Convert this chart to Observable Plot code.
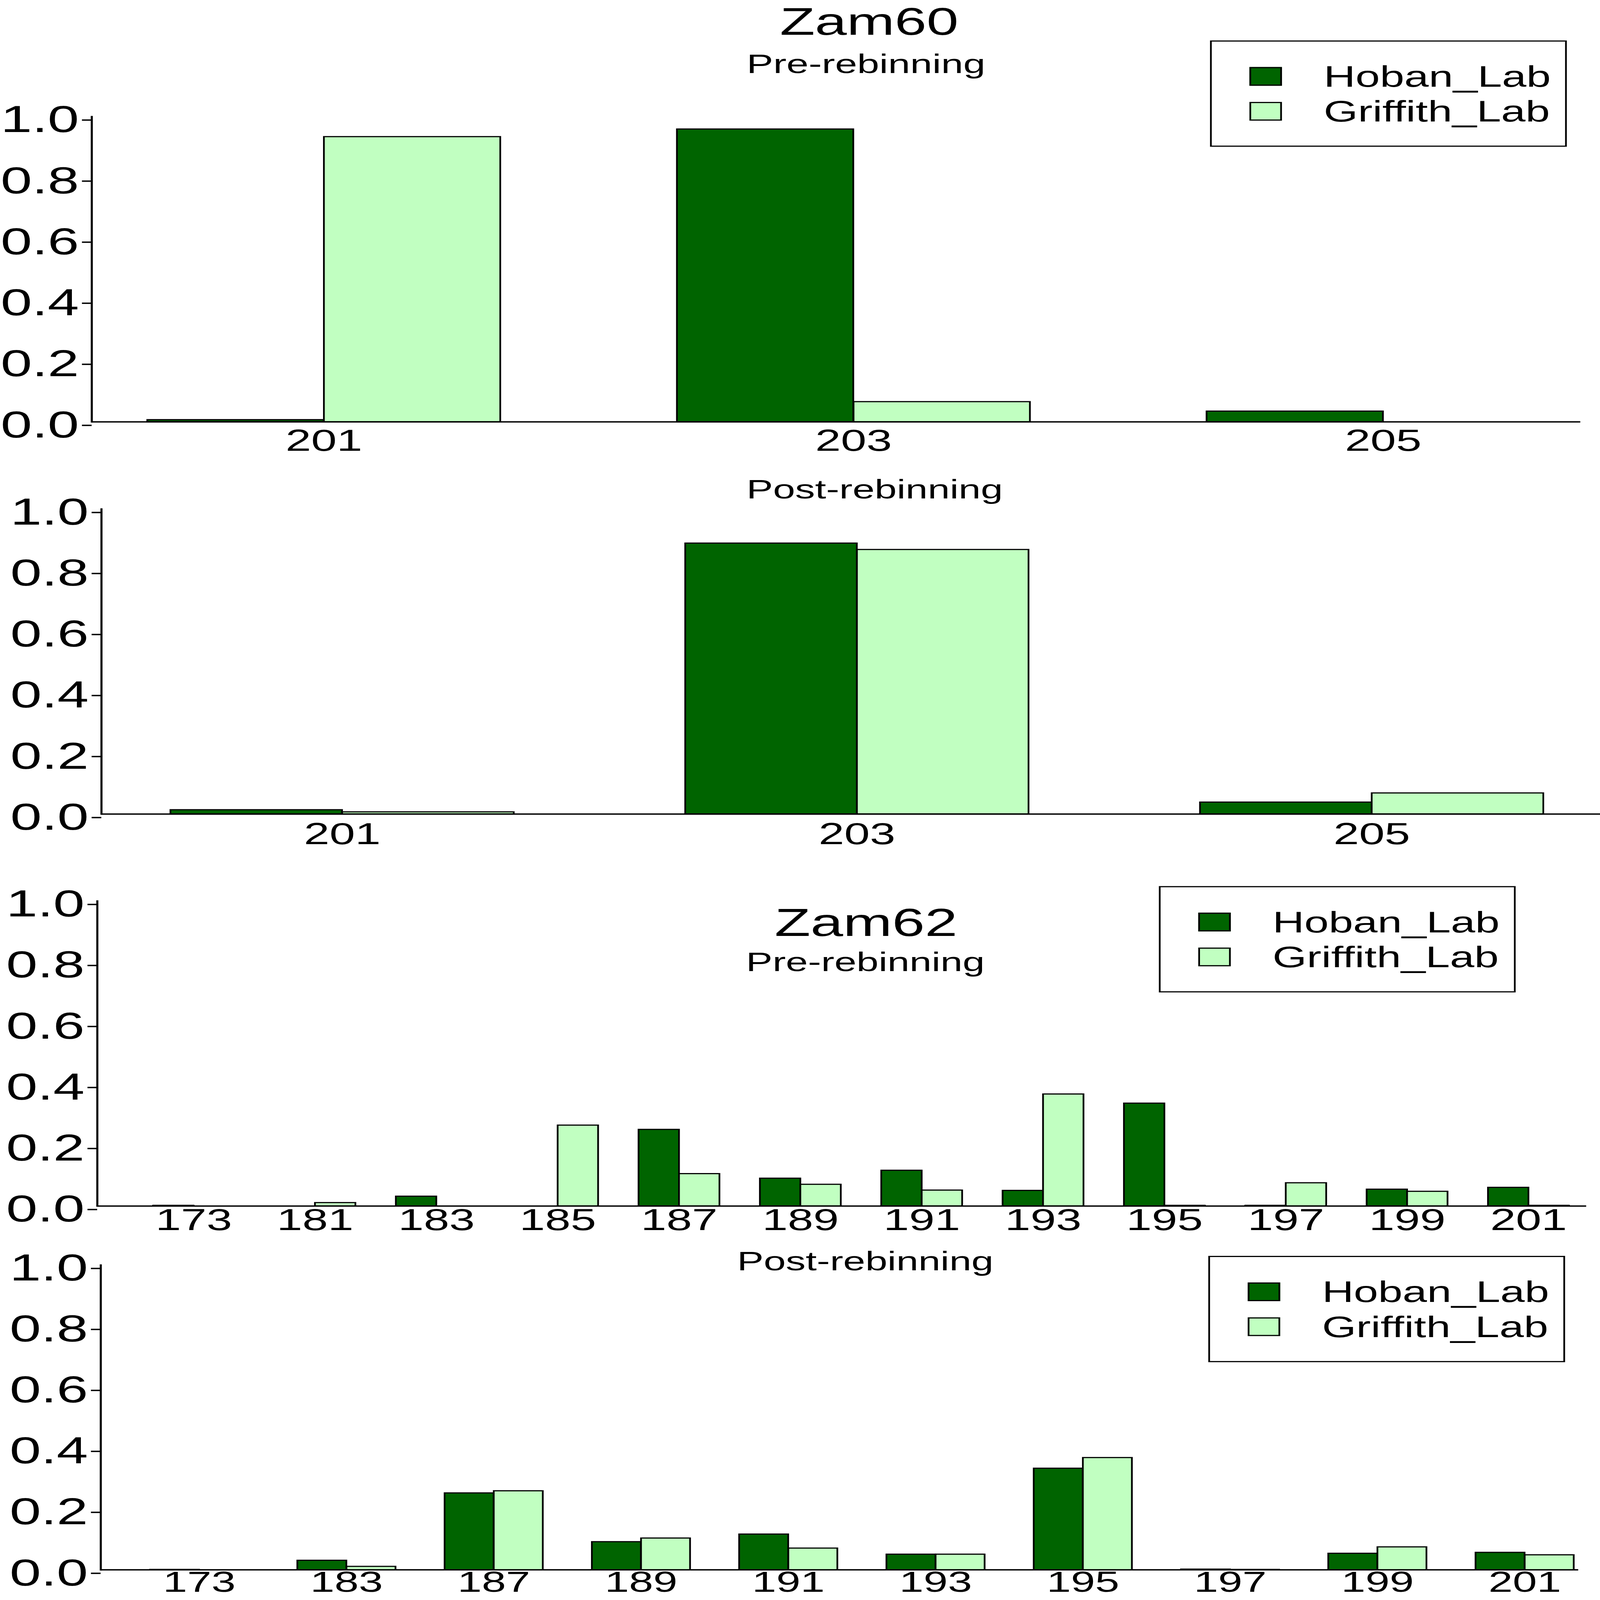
<!DOCTYPE html>
<html>
<head>
<meta charset="utf-8">
<script src="https://cdn.jsdelivr.net/npm/d3@7"></script>
<script src="https://cdn.jsdelivr.net/npm/@observablehq/plot@0.6"></script>
<style>
  html, body { margin: 0; padding: 0; background: #ffffff; overflow: hidden; }
  #page { position: absolute; left: 0; top: 0; width: 4628px; height: 6923px; overflow: hidden;
          transform-origin: 0 0;
          font-family: "Liberation Sans", Arial, sans-serif; color: #000; background: #fff; }
  .panel { position: absolute; left: 0; }
  .txt { position: absolute; white-space: nowrap; line-height: 1; transform: translateX(-50%); }
  .legend { position: absolute; box-sizing: border-box; border: 5px solid #000; background: #fff; }
  .sw { position: absolute; box-sizing: border-box; border: 5px solid #000; width: 94px; height: 81px; }
  .lt { position: absolute; white-space: nowrap; line-height: 1; font-size: 127px; }
</style>
</head>
<body>
<div id="page"></div>
<script>
// ---------------- data ----------------
const labs = ["Hoban_Lab", "Griffith_Lab"];
const labColors = ["#006400", "#C1FFC1"];
const yTicks = [0, 0.2, 0.4, 0.6, 0.8, 1.0];

const zam60Alleles = ["201", "203", "205"];
const zam60PreHoban = [0.007, 0.959, 0.035];
const zam60PreGriffith = [0.934, 0.066, 0.0];
const zam60PostHoban = [0.014, 0.888, 0.039];
const zam60PostGriffith = [0.007, 0.867, 0.069];

const zam62PreAlleles = ["173", "181", "183", "185", "187", "189", "191", "193", "195", "197", "199", "201"];
const zam62PreHoban = [0.002, 0.0, 0.032, 0.0, 0.251, 0.091, 0.117, 0.051, 0.337, 0.002, 0.055, 0.061];
const zam62PreGriffith = [0.0, 0.011, 0.0, 0.265, 0.106, 0.071, 0.052, 0.367, 0.002, 0.076, 0.048, 0.002];

const zam62PostAlleles = ["173", "183", "187", "189", "191", "193", "195", "197", "199", "201"];
const zam62PostHoban = [0.001, 0.031, 0.252, 0.092, 0.117, 0.051, 0.333, 0.002, 0.054, 0.057];
const zam62PostGriffith = [0.0, 0.011, 0.259, 0.104, 0.071, 0.051, 0.368, 0.001, 0.075, 0.049];

// ---------------- layout (design size 4628 x 6923) ----------------
const W = 4628, H = 6923;
const FONT = "Liberation Sans, Arial, sans-serif";
const page = document.getElementById("page");

// fit the design into whatever viewport the page is photographed in
function fit() {
  const sx = (window.innerWidth || W) / W;
  const sy = (window.innerHeight || H) / H;
  page.style.transform = (Math.abs(sx - 1) < 1e-6 && Math.abs(sy - 1) < 1e-6) ? "none" : `scale(${sx}, ${sy})`;
}
fit();
window.addEventListener("resize", fit);

const panels = [
  { alleles: zam60Alleles, hoban: zam60PreHoban, griffith: zam60PreGriffith,
    top: 0, height: 2000, yTop: 504, yZero: 1825, axisX: 265, axisEnd: 4571,
    xRange: [425, 4512], gap: 31, xFont: 133,
    texts: [{t: "Zam60", x: 2514, base: 152, size: 166}, {t: "Pre-rebinning", x: 2505, base: 316, size: 115}],
    legend: {left: 3500, top: 175} },
  { alleles: zam60Alleles, hoban: zam60PostHoban, griffith: zam60PostGriffith,
    top: 2000, height: 1750, yTop: 2202, yZero: 3522, axisX: 293, axisEnd: 4628,
    xRange: [492, 4465], gap: 36, xFont: 133,
    texts: [{t: "Post-rebinning", x: 2530, base: 2157, size: 115}],
    legend: null },
  { alleles: zam62PreAlleles, hoban: zam62PreHoban, griffith: zam62PreGriffith,
    top: 3750, height: 1600, yTop: 3898, yZero: 5218, axisX: 281, axisEnd: 4588,
    xRange: [443, 4538], gap: 10, xFont: 133,
    texts: [{t: "Zam62", x: 2505, base: 4050, size: 170}, {t: "Pre-rebinning", x: 2503, base: 4201, size: 115}],
    legend: {left: 3352, top: 3834} },
  { alleles: zam62PostAlleles, hoban: zam62PostHoban, griffith: zam62PostGriffith,
    top: 5350, height: 1573, yTop: 5473, yZero: 6792, axisX: 291, axisEnd: 4565,
    xRange: [431, 4554], gap: 5, xFont: 126,
    texts: [{t: "Post-rebinning", x: 2503, base: 5497, size: 115}],
    legend: {left: 3495, top: 5434} }
];

const PAD = 1 / 3;

for (const p of panels) {
  const rows = [];
  p.alleles.forEach((a, i) => {
    rows.push({allele: a, lab: labs[0], value: p.hoban[i]});
    rows.push({allele: a, lab: labs[1], value: p.griffith[i]});
  });
  const n = p.alleles.length;
  const bw = (p.xRange[1] - p.xRange[0]) * (1 - PAD) / (n - PAD);
  const half = bw / 2;

  const chart = Plot.plot({
    width: W,
    height: p.height,
    marginLeft: p.axisX,
    marginRight: W - p.axisEnd,
    marginTop: p.yTop - p.top,
    marginBottom: p.top + p.height - p.yZero,
    style: {fontFamily: FONT, background: "transparent", color: "#000", overflow: "visible", maxWidth: "none"},
    x: {type: "band", domain: p.alleles, range: p.xRange, paddingInner: PAD, paddingOuter: 0, label: null},
    y: {domain: [0, 1], label: null},
    marks: [
      Plot.barY(rows.filter(d => d.lab === labs[0]),
        {x: "allele", y: "value", fill: labColors[0], stroke: "#000", strokeWidth: 5, insetLeft: 0, insetRight: half}),
      Plot.barY(rows.filter(d => d.lab === labs[1]),
        {x: "allele", y: "value", fill: labColors[1], stroke: "#000", strokeWidth: 5, insetLeft: half, insetRight: 0}),
      Plot.ruleY([0], {stroke: "#000", strokeWidth: 6}),
      Plot.frame({anchor: "left", stroke: "#000", strokeWidth: 6}),
      Plot.axisY({ticks: yTicks, tickFormat: d3.format(".1f"), tickSize: 28, tickPadding: 9,
                  fontSize: 163, strokeWidth: 6, dy: 15, label: null}),
      Plot.axisX({tickSize: 0, tickPadding: p.gap, fontSize: p.xFont, label: null})
    ]
  });
  chart.classList.add("panel");
  chart.style.top = p.top + "px";
  page.appendChild(chart);

  // titles
  for (const t of p.texts) {
    const d = document.createElement("div");
    d.className = "txt";
    d.textContent = t.t;
    d.style.fontSize = t.size + "px";
    d.style.left = t.x + "px";
    d.style.top = (t.base - 0.8465 * t.size) + "px";
    page.appendChild(d);
  }

  // legend
  if (p.legend) {
    const box = document.createElement("div");
    box.className = "legend";
    box.style.left = p.legend.left + "px";
    box.style.top = p.legend.top + "px";
    box.style.width = "1032px";
    box.style.height = "460px";
    labs.forEach((lab, i) => {
      const cy = 155 + i * 151 - 5;
      const sw = document.createElement("div");
      sw.className = "sw";
      sw.style.background = labColors[i];
      sw.style.left = (114 - 5) + "px";
      sw.style.top = (cy - 40.5) + "px";
      box.appendChild(sw);
      const tx = document.createElement("div");
      tx.className = "lt";
      tx.textContent = lab;
      tx.style.left = (329 - 5) + "px";
      const base = cy + 0.716 * 127 / 2;
      tx.style.top = (base - 0.8465 * 127) + "px";
      box.appendChild(tx);
    });
    page.appendChild(box);
  }
}
</script>
</body>
</html>
